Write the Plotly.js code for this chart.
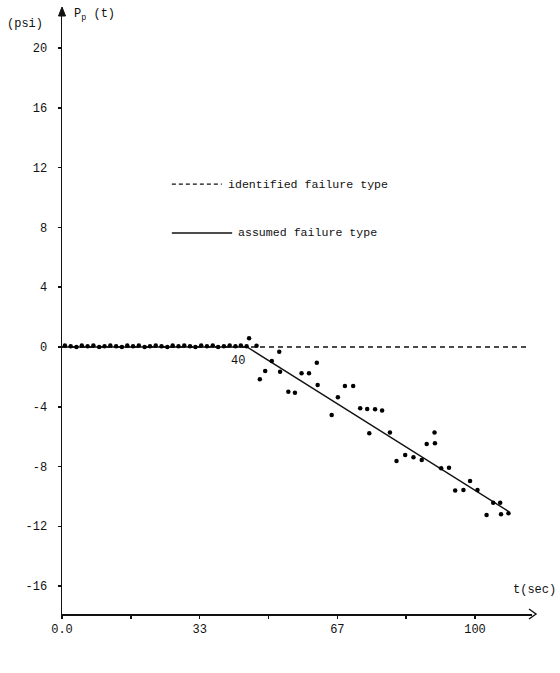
<!DOCTYPE html>
<html>
<head>
<meta charset="utf-8">
<script src="https://cdn.plot.ly/plotly-3.0.1.min.js"></script>
<style>
html,body{margin:0;padding:0;background:#fff;}
#chart{width:560px;height:673px;}
</style>
</head>
<body>
<div id="chart"></div>
<script>
// ---- data ----
const flatT = [0.7, 2.1, 3.5, 4.8, 6.2, 7.6, 9.0, 10.3, 11.7, 13.1, 14.5, 15.8, 17.2, 18.6, 20.0, 21.3, 22.7, 24.1, 25.5, 26.8, 28.2, 29.6, 31.0, 32.3, 33.7, 35.1, 36.5, 37.8, 39.2, 40.6, 42.0, 43.3, 44.7];
const flatP = [0.1, 0.05, 0.0, 0.1, 0.05, 0.1, 0.0, 0.05, 0.1, 0.05, 0.0, 0.1, 0.05, 0.1, 0.0, 0.05, 0.1, 0.05, 0.0, 0.1, 0.05, 0.1, 0.05, 0.0, 0.1, 0.05, 0.1, 0.0, 0.05, 0.1, 0.05, 0.1, 0.05];
const slopeT = [45.3, 47.1, 52.6, 50.8, 49.2, 47.9, 52.8, 58.0, 59.8, 61.7, 54.8, 56.4, 61.9, 66.8, 65.3, 68.5, 70.5, 72.2, 73.9, 75.8, 77.5, 74.4, 79.4, 81.0, 83.1, 85.1, 87.1, 88.3, 90.3, 90.2, 91.8, 93.7, 95.2, 97.2, 98.8, 100.6, 102.8, 104.4, 106.1, 106.3, 108.1];
const slopeP = [0.58, 0.09, -0.31, -0.94, -1.6, -2.16, -1.65, -1.76, -1.76, -1.05, -2.99, -3.06, -2.54, -3.37, -4.55, -2.61, -2.61, -4.1, -4.15, -4.17, -4.25, -5.78, -5.73, -7.63, -7.23, -7.38, -7.56, -6.5, -6.45, -5.73, -8.12, -8.08, -9.6, -9.57, -8.97, -9.57, -11.25, -10.42, -10.42, -11.2, -11.13];
const identifiedT = [0, 113];
const identifiedP = [0, 0];
const assumedT = [0, 44.8, 108.1];
const assumedP = [0, 0, -11.0];
const xTickVals = [0, 33.33, 66.67, 100];
const xTickText = ["0.0", "33", "67", "100"];
const xMinorTickVals = [16.67, 50, 83.33];
const yTickVals = [-16, -12, -8, -4, 0, 4, 8, 12, 16, 20];
const yTickText = ["-16", "-12", "-8", "-4", "0", "4", "8", "12", "16", "20"];
const breakLabel = "40";
const legendNames = ["identified failure type", "assumed failure type"];

const FONT = "Liberation Mono, DejaVu Sans Mono, monospace";

const traces = [
  {x: identifiedT, y: identifiedP, mode: "lines", line: {color: "#111", width: 1.4, dash: "5px,4px"}, hoverinfo: "skip"},
  {x: assumedT, y: assumedP, mode: "lines", line: {color: "#111", width: 1.4}, hoverinfo: "skip"},
  {x: flatT.concat(slopeT), y: flatP.concat(slopeP), mode: "markers", marker: {color: "#000", size: 4.5}}
];

// plot area is 470 x 599 px
const PW = 470, PH = 599;
const px = v => v / PW, py = v => v / PH;

const layout = {
  width: 560, height: 673,
  margin: {l: 62, r: 28, t: 15, b: 59},
  paper_bgcolor: "#fff", plot_bgcolor: "#fff",
  showlegend: false,
  font: {family: FONT, color: "#111", size: 12},
  xaxis: {
    range: [0, 113.8], showgrid: false, zeroline: false,
    showline: true, linecolor: "#111", linewidth: 1.5,
    tickmode: "array", tickvals: xTickVals, ticktext: xTickText,
    ticks: "outside", ticklen: 3, tickcolor: "#111", tickwidth: 1.5,
    minor: {tickmode: "array", tickvals: xMinorTickVals, ticks: "outside", ticklen: 3, tickcolor: "#111", tickwidth: 1.5, showgrid: false},
    tickfont: {family: FONT, size: 12, color: "#111"}
  },
  yaxis: {
    range: [-17.87, 22.22], showgrid: false, zeroline: false,
    showline: true, linecolor: "#111", linewidth: 1.5,
    tickvals: yTickVals, ticktext: yTickText,
    ticks: "outside", ticklen: 3, tickcolor: "#111", tickwidth: 1.5,
    ticklabelstandoff: 8,
    tickfont: {family: FONT, size: 12, color: "#111"}
  },
  shapes: [
    {type: "line", xref: "x", yref: "y", x0: 26.6, x1: 38.7, y0: 10.9, y1: 10.9, line: {color: "#111", width: 1.4, dash: "4px,3px"}},
    {type: "line", xref: "x", yref: "y", x0: 26.6, x1: 41.2, y0: 7.63, y1: 7.63, line: {color: "#111", width: 1.4}},
    // y-axis arrowhead (filled)
    {type: "path", xref: "paper", yref: "paper",
     path: `M ${px(-3.5)},${1 - py(1)} L 0,${1 + py(8)} L ${px(3.5)},${1 - py(1)} Z`,
     fillcolor: "#111", line: {color: "#111", width: 1}},
    // x-axis arrowhead (open chevron)
    {type: "path", xref: "paper", yref: "paper",
     path: `M ${1 - px(3)},${py(5)} L ${1 + px(4)},0 L ${1 - px(3)},${-py(5)}`,
     line: {color: "#111", width: 1.4}}
  ],
  annotations: [
    {xref: "x", yref: "y", x: 39.6, y: 10.9, text: legendNames[0], showarrow: false, xanchor: "left", font: {family: FONT, size: 11.6, color: "#111"}},
    {xref: "x", yref: "y", x: 42.1, y: 7.63, text: legendNames[1], showarrow: false, xanchor: "left", font: {family: FONT, size: 11.6, color: "#111"}},
    {xref: "x", yref: "y", x: 42.6, y: -0.95, text: breakLabel, showarrow: false, font: {family: FONT, size: 12, color: "#111"}},
    {xref: "paper", yref: "paper", x: px(-57), y: 1.0, text: "(psi)", xanchor: "left", showarrow: false, font: {family: FONT, size: 12, color: "#111"}},
    {xref: "paper", yref: "paper", x: px(10), y: 1.017, text: "P<sub>p</sub> (t)", xanchor: "left", showarrow: false, font: {family: FONT, size: 12, color: "#111"}},
    {xref: "paper", yref: "paper", x: px(496), y: py(15), text: "t(sec)", xanchor: "right", showarrow: false, font: {family: FONT, size: 12, color: "#111"}}
  ]
};

Plotly.newPlot("chart", traces, layout, {displayModeBar: false, staticPlot: true});
</script>
</body>
</html>
